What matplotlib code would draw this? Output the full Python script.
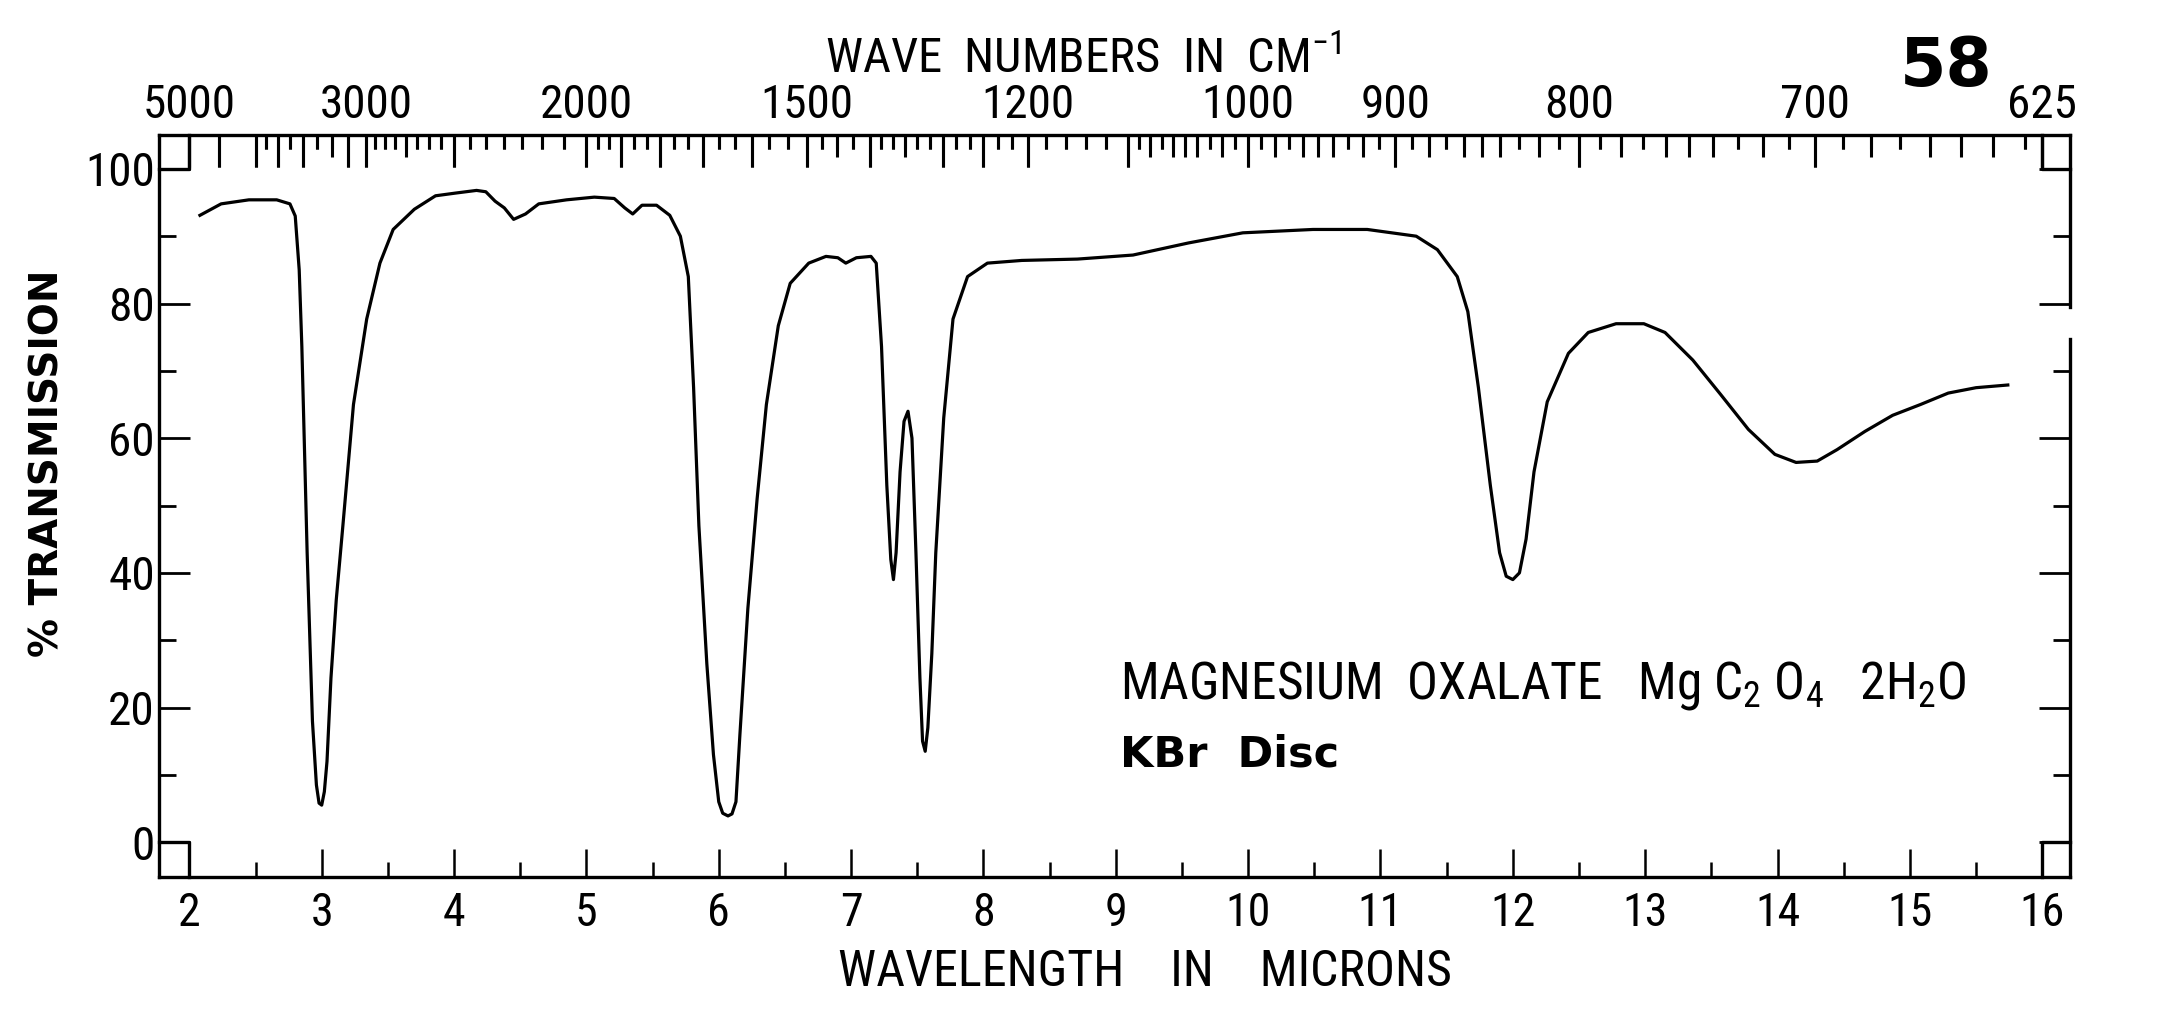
import numpy as np
import matplotlib
matplotlib.use('Agg')
import matplotlib.pyplot as plt

# spectrum: wavelength (microns) vs % transmission
wavelength = [2.08, 2.24, 2.45, 2.66, 2.76, 2.80, 2.83, 2.85, 2.89, 2.93, 2.96, 2.98, 3.00, 3.02, 3.04,
              3.07, 3.11, 3.16, 3.24, 3.34, 3.44, 3.54, 3.70, 3.86, 4.01, 4.17, 4.24, 4.31, 4.38,
              4.45, 4.54, 4.64, 4.85, 5.06, 5.21, 5.29, 5.35, 5.42, 5.53, 5.63, 5.71, 5.77, 5.81,
              5.85, 5.91, 5.96, 6.00, 6.03, 6.07, 6.10, 6.13, 6.16, 6.22, 6.29, 6.36, 6.45, 6.54,
              6.68, 6.81, 6.90, 6.96, 7.04, 7.15, 7.19, 7.23, 7.27, 7.30, 7.32, 7.34, 7.37, 7.40,
              7.43, 7.46, 7.49, 7.52, 7.54, 7.56, 7.58, 7.61, 7.64, 7.70, 7.77, 7.88, 8.03, 8.29,
              8.71, 9.13, 9.55, 9.96, 10.49, 10.90, 11.27, 11.43, 11.58, 11.66, 11.74, 11.83, 11.90,
              11.95, 12.00, 12.05, 12.10, 12.16, 12.26, 12.42, 12.57, 12.78, 12.99, 13.15, 13.36,
              13.57, 13.78, 13.98, 14.14, 14.30, 14.45, 14.66, 14.87, 15.08, 15.29, 15.50, 15.74]
transmission = [93.1, 94.8, 95.4, 95.4, 94.8, 93.0, 85.0, 73.6, 43.0, 18.0, 8.5, 5.8, 5.5, 7.5, 12.0,
                24.4, 36.0, 47.0, 65.0, 77.7, 86.0, 91.0, 94.0, 96.0, 96.4, 96.8, 96.6, 95.2, 94.2,
                92.5, 93.3, 94.8, 95.4, 95.8, 95.6, 94.2, 93.3, 94.6, 94.6, 93.1, 90.0, 84.0, 67.5,
                47.0, 26.5, 13.0, 6.0, 4.3, 3.9, 4.2, 6.0, 16.0, 34.7, 51.0, 65.0, 76.7, 83.0,
                86.0, 87.0, 86.8, 86.0, 86.8, 87.0, 86.0, 73.6, 53.0, 42.0, 39.0, 43.0, 55.0, 62.5,
                64.0, 60.0, 43.0, 24.4, 15.0, 13.5, 17.0, 28.0, 43.0, 63.0, 77.7, 84.0, 86.0, 86.4,
                86.6, 87.2, 89.0, 90.5, 91.0, 91.0, 90.0, 88.0, 84.0, 78.8, 67.5, 53.0, 43.0,
                39.5, 39.0, 40.0, 45.0, 55.0, 65.4, 72.6, 75.7, 77.0, 77.0, 75.7, 71.6,
                66.5, 61.3, 57.6, 56.4, 56.6, 58.3, 61.0, 63.4, 65.0, 66.7, 67.5, 67.9]

micron_ticks = list(range(2, 17))
pct_ticks = [0, 20, 40, 60, 80, 100]
wavenumber_labels = [5000, 3000, 2000, 1500, 1200, 1000, 900, 800, 700, 625]

# top scale tick marks in cm-1: (from, to, step) as counted off the chart
wn_sections = [(5000, 4000, 500), (4000, 3000, 125), (3000, 2500, 62.5), (2500, 2000, 500 / 7),
               (2000, 1500, 100 / 3), (1500, 1400, 25), (1400, 1300, 50 / 3), (1300, 1200, 50 / 3),
               (1200, 1100, 20), (1100, 630, 10)]
wn_ticks = []
for hi, lo, step in wn_sections:
    n = int(round((hi - lo) / step))
    wn_ticks += [hi - k * step for k in range(n)]
wn_ticks += [630, 625]


def is_mult(w, m):
    return abs(w / m - round(w / m)) < 1e-6


narrow = ['Liberation Sans Narrow', 'Roboto Condensed', 'Noto Sans Condensed', 'DejaVu Sans']
wide = ['DejaVu Sans']
cond = 'condensed'

fig = plt.figure(figsize=(21.68, 10.32), dpi=100)
ax = fig.add_axes([0.0733, 0.150, 0.8815, 0.719])

ax.plot(wavelength, transmission, color='black', lw=2.3, solid_joinstyle='round')

ax.set_xlim(1.77, 16.21)
ax.set_ylim(-5.2, 105)

for s in ['left', 'top', 'bottom']:
    ax.spines[s].set_linewidth(2.4)
ax.spines['right'].set_visible(False)
# right frame line is broken just below 80
ax.plot([1, 1], [-5.2, 74.8], color='black', lw=2.4, transform=ax.get_yaxis_transform(), clip_on=False)
ax.plot([1, 1], [79.5, 105], color='black', lw=2.4, transform=ax.get_yaxis_transform(), clip_on=False)

# little corner boxes at 2/16 microns and 0/100 %
for xc, xe in [(2, 1.77), (16, 16.21)]:
    for yc, ye in [(100, 105), (0, -5.2)]:
        ax.plot([xe, xc, xc], [yc, yc, ye], color='black', lw=2.4, clip_on=False)

ax.set_xticks(micron_ticks)
ax.set_xticklabels([str(v) for v in micron_ticks], fontsize=33, family=narrow, stretch=cond)
ax.set_xticks(np.arange(2.5, 16, 1.0), minor=True)
ax.tick_params(axis='x', which='major', direction='in', length=20, width=1.8, pad=10, top=False)
ax.tick_params(axis='x', which='minor', direction='in', length=11, width=1.8, top=False)

ax.set_yticks(pct_ticks)
ax.set_yticklabels([str(v) for v in pct_ticks], fontsize=34, family=narrow, stretch=cond)
ax.set_yticks(range(10, 100, 20), minor=True)
ax.tick_params(axis='y', which='major', direction='in', length=22, width=2.0, pad=3, right=True)
ax.tick_params(axis='y', which='minor', direction='in', length=12, width=2.0, right=True)

# top wave-number scale marks hang down from the top frame: long, medium, short
long_x, other_x = [], []
top_x, top_len = [], []
for w in wn_ticks:
    if is_mult(w, 100) or is_mult(w, 625):
        size = 0.043
        long_x.append(10000.0 / w)
    elif is_mult(w, 50) or (w <= 1100 and is_mult(w, 20)):
        size = 0.030
        other_x.append(10000.0 / w)
    else:
        size = 0.019
        other_x.append(10000.0 / w)
    top_x.append(10000.0 / w)
    top_len.append(size)
ax.vlines(top_x, [1 - s for s in top_len], 1, colors='black', lw=2.2,
          transform=ax.get_xaxis_transform(), clip_on=False, zorder=3)

# wave-number scale on a twin axis: same marks plus the numbers
long_text = []
for w in long_x:
    hit = [lab for lab in wavenumber_labels if abs(10000.0 / lab - w) < 1e-6]
    long_text.append(str(hit[0]) if hit else '')

ax2 = ax.twiny()
ax2.set_xlim(ax.get_xlim())
for s in ax2.spines.values():
    s.set_visible(False)
ax2.set_xticks(long_x)
ax2.set_xticklabels(long_text, fontsize=34, family=narrow, stretch=cond)
ax2.set_xticks(other_x, minor=True)
ax2.tick_params(axis='x', which='major', direction='in', length=23, width=2.2, pad=6)
ax2.tick_params(axis='x', which='minor', direction='in', length=10, width=2.2)

fig.text(0.4995, 0.9295, r'WAVE  NUMBERS  IN  CM$\mathregular{^{-1}}$', ha='center', va='baseline',
         fontsize=35, family=narrow, stretch=cond)
fig.text(0.528, 0.0446, 'WAVELENGTH    IN    MICRONS', ha='center', va='baseline', fontsize=36,
         family=narrow, stretch=cond)
fig.text(0.022, 0.551, '% TRANSMISSION', rotation=90, ha='center', va='center', fontsize=28,
         fontweight='bold', family=wide)
fig.text(0.8976, 0.9167, '58', ha='center', va='baseline', fontsize=48, fontweight='bold', family=wide)

ax.text(9.03, 21.3, r'MAGNESIUM  OXALATE   Mg C$\mathregular{_2}$ O$\mathregular{_4}$   2H$\mathregular{_2}$O',
        ha='left', va='baseline', fontsize=37, family=narrow, stretch=cond)
ax.text(9.03, 11.3, 'KBr  Disc', ha='left', va='baseline', fontsize=31, fontweight='bold', family=wide)

fig.savefig('out.png', dpi=100)
